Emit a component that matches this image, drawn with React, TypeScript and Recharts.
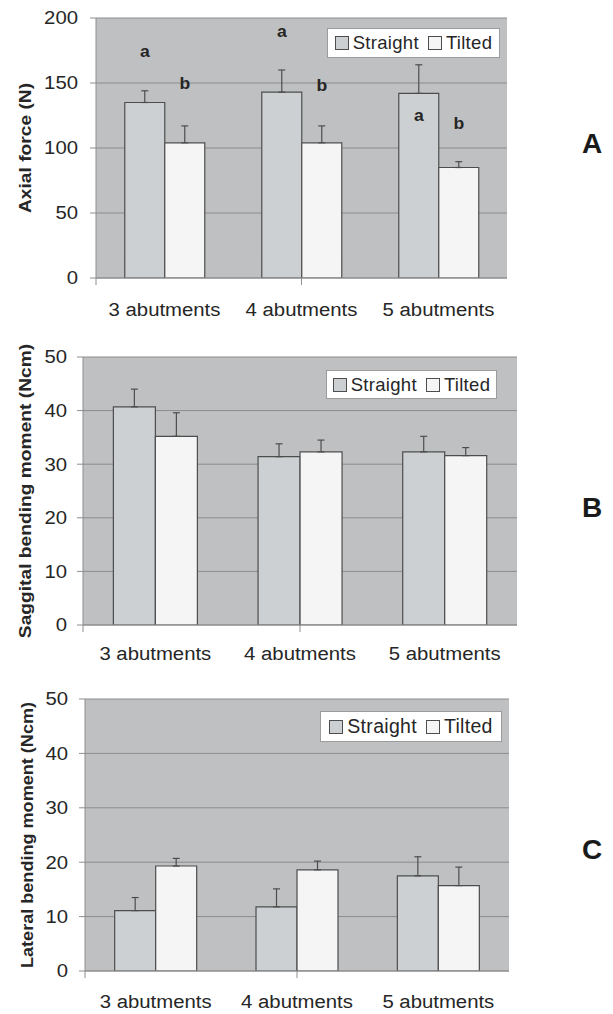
import React from 'react';
import {
  BarChart,
  Bar,
  XAxis,
  YAxis,
  CartesianGrid,
  ErrorBar,
  Legend,
  LabelList,
  ReferenceLine,
} from 'recharts';

// ---------- data ----------
const categories = ['3 abutments', '4 abutments', '5 abutments'];
const boundaryTicks = [0, 1, 2, 3];

// Panel A: axial force (N)
const axialStraight = [135, 143, 142];
const axialStraightSD = [9, 17, 22];
const axialTilted = [104, 104, 85];
const axialTiltedSD = [13, 13, 4.5];
const axialStraightSig = ['a', 'a', 'a'];
const axialStraightSigAt = [174, 190, 125];
const axialTiltedSig = ['b', 'b', 'b'];
const axialTiltedSigAt = [150, 148, 119];
const axialTicks = [0, 50, 100, 150, 200];

// Panel B: sagittal bending moment (Ncm)
const sagStraight = [40.7, 31.4, 32.3];
const sagStraightSD = [3.3, 2.4, 2.9];
const sagTilted = [35.2, 32.3, 31.6];
const sagTiltedSD = [4.4, 2.2, 1.5];

// Panel C: lateral bending moment (Ncm)
const latStraight = [11.1, 11.8, 17.5];
const latStraightSD = [2.4, 3.3, 3.5];
const latTilted = [19.3, 18.6, 15.7];
const latTiltedSD = [1.4, 1.6, 3.4];

const momentTicks = [0, 10, 20, 30, 40, 50];
const emptySig = ['', '', ''];
const emptyAt = [0, 0, 0];

// ---------- style ----------
const FONT = '"Liberation Sans", Arial, Helvetica, sans-serif';
const SX = 1.13;
const PLOT_BG = '#bfc0c2';
const GRID = '#8c8c8c';
const AXIS = '#8e8e8e';
const STRAIGHT_FILL = '#cdd0d2';
const TILTED_FILL = '#f5f5f5';
const BAR_STROKE = '#4d4d4d';
const TEXT = '#262626';

type Row = {
  name: string;
  straight: number;
  straightErr: [number, number];
  tilted: number;
  tiltedErr: [number, number];
  sigS: string;
  sigT: string;
};

const buildRows = (s: number[], sSD: number[], t: number[], tSD: number[], sigS: string[], sigT: string[]): Row[] =>
  categories.map((name, i) => ({
    name,
    straight: s[i],
    straightErr: [0, sSD[i]],
    tilted: t[i],
    tiltedErr: [0, tSD[i]],
    sigS: sigS[i],
    sigT: sigT[i],
  }));

const axialData = buildRows(axialStraight, axialStraightSD, axialTilted, axialTiltedSD, axialStraightSig, axialTiltedSig);
const sagData = buildRows(sagStraight, sagStraightSD, sagTilted, sagTiltedSD, emptySig, emptySig);
const latData = buildRows(latStraight, latStraightSD, latTilted, latTiltedSD, emptySig, emptySig);

// ---------- custom renderers ----------
const CatTick = (props: any) => {
  const { x, y, payload } = props;
  return (
    <g transform={`translate(${x},${y})`}>
      <text transform={`scale(${SX},1)`} textAnchor="middle" dy="0.71em" fontSize={18} fill={TEXT} fontFamily={FONT}>
        {payload.value}
      </text>
    </g>
  );
};

const NumTick = (props: any) => {
  const { x, y, payload } = props;
  return (
    <g transform={`translate(${x},${y})`}>
      <text transform={`scale(${SX},1)`} textAnchor="end" dy="0.35em" fontSize={18} fill={TEXT} fontFamily={FONT}>
        {payload.value}
      </text>
    </g>
  );
};

const EmptyTick = () => <g />;

const makeTitle = (text: string, size: number, cx: number) => (props: any) => {
  const vb = props.viewBox || props;
  const x = vb.x + cx;
  const y = vb.y + vb.height / 2;
  return (
    <g transform={`translate(${x},${y}) rotate(-90)`}>
      <text transform={`scale(${SX},1)`} textAnchor="middle" dy="0.35em" fontWeight="bold" fontSize={size} fill={TEXT} fontFamily={FONT}>
        {text}
      </text>
    </g>
  );
};

const makeSig = (values: number[], sig: string[], at: number[]) => (props: any) => {
  const { index } = props;
  const vb = props.viewBox || props;
  const v = values[index];
  if (!sig[index] || !v || vb == null) return null;
  const zeroY = vb.y + vb.height;
  const per = vb.height / v;
  const ty = zeroY - at[index] * per;
  const cx = vb.x + vb.width / 2;
  return (
    <g transform={`translate(${cx},${ty})`}>
      <text transform="scale(1.1,1)" textAnchor="middle" dy="0.35em" fontWeight="bold" fontSize={16} fill={TEXT} fontFamily={FONT}>
        {sig[index]}
      </text>
    </g>
  );
};

const makeLegend = (fs: number) => (props: any) => {
  const payload = props.payload || [];
  return (
    <div
      style={{
        width: '100%',
        height: '100%',
        boxSizing: 'border-box',
        background: '#ffffff',
        border: '1px solid #9c9c9c',
        display: 'flex',
        alignItems: 'center',
        justifyContent: 'center',
        fontFamily: FONT,
        fontSize: fs,
        letterSpacing: '0.3px',
        color: TEXT,
        whiteSpace: 'nowrap',
      }}
    >
      {payload.map((p: any, i: number) => (
        <span key={i} style={{ display: 'flex', alignItems: 'center', marginRight: i === 0 ? 9 : 0 }}>
          <span
            style={{
              display: 'inline-block',
              width: 12,
              height: 12,
              border: `1px solid ${BAR_STROKE}`,
              background: p.color,
              marginRight: 4,
            }}
          />
          {p.value}
        </span>
      ))}
    </div>
  );
};

type PanelProps = {
  data: Row[];
  top: number;
  width: number;
  height: number;
  yWidth: number;
  catHeight: number;
  catMargin: number;
  yTickMargin: number;
  domain: [number, number];
  ticks: number[];
  title: string;
  titleSize: number;
  titleX: number;
  legend: { left: number; top: number; width: number; height: number; fs: number };
  sVals: number[];
  tVals: number[];
  sigS: string[];
  sigSAt: number[];
  sigT: string[];
  sigTAt: number[];
};

const Panel = (p: PanelProps) => (
  <div style={{ position: 'absolute', left: 0, top: p.top }}>
    <BarChart
      width={p.width}
      height={p.height}
      data={p.data}
      margin={{ top: 18, right: 13, left: 0, bottom: 0 }}
      barCategoryGap="21%"
      barGap={0}
      style={{ fontFamily: FONT }}
    >
      <CartesianGrid xAxisId="cat" vertical={false} fill={PLOT_BG} fillOpacity={1} stroke={GRID} />
      <XAxis
        xAxisId="bound"
        type="number"
        domain={[0, 3]}
        ticks={boundaryTicks}
        allowDataOverflow
        height={8}
        tickSize={7}
        tick={EmptyTick}
        axisLine={{ stroke: AXIS }}
        tickLine={{ stroke: AXIS }}
      />
      <XAxis
        xAxisId="cat"
        dataKey="name"
        type="category"
        height={p.catHeight}
        tickSize={0}
        tickMargin={p.catMargin}
        axisLine={false}
        tickLine={false}
        interval={0}
        tick={CatTick}
      />
      <YAxis
        width={p.yWidth}
        domain={p.domain}
        ticks={p.ticks}
        interval={0}
        allowDataOverflow
        tickSize={6}
        tickMargin={p.yTickMargin}
        axisLine={{ stroke: AXIS }}
        tickLine={{ stroke: AXIS }}
        tick={NumTick}
        label={makeTitle(p.title, p.titleSize, p.titleX)}
      />
      <ReferenceLine xAxisId="bound" x={3} stroke="#a6a6a6" ifOverflow="visible" />
      <Legend
        verticalAlign="middle"
        align="center"
        layout="horizontal"
        content={makeLegend(p.legend.fs)}
        wrapperStyle={{
          left: p.legend.left,
          top: p.legend.top,
          width: p.legend.width,
          height: p.legend.height,
          right: 'auto',
          bottom: 'auto',
        }}
      />
      <Bar
        xAxisId="cat"
        dataKey="straight"
        name="Straight"
        fill={STRAIGHT_FILL}
        stroke={BAR_STROKE}
        strokeWidth={1.2}
        isAnimationActive={false}
      >
        <ErrorBar dataKey="straightErr" direction="y" width={3.5} stroke={BAR_STROKE} strokeWidth={1.2} isAnimationActive={false} />
        <LabelList dataKey="sigS" content={makeSig(p.sVals, p.sigS, p.sigSAt)} />
      </Bar>
      <Bar
        xAxisId="cat"
        dataKey="tilted"
        name="Tilted"
        fill={TILTED_FILL}
        stroke={BAR_STROKE}
        strokeWidth={1.2}
        isAnimationActive={false}
      >
        <ErrorBar dataKey="tiltedErr" direction="y" width={3.5} stroke={BAR_STROKE} strokeWidth={1.2} isAnimationActive={false} />
        <LabelList dataKey="sigT" content={makeSig(p.tVals, p.sigT, p.sigTAt)} />
      </Bar>
    </BarChart>
  </div>
);

export default function App() {
  return (
    <div
      style={{
        position: 'absolute',
        left: 0,
        top: 0,
        width: 613,
        height: 1014,
        background: '#ffffff',
        overflow: 'hidden',
        fontFamily: FONT,
      }}
    >
      <Panel
        data={axialData}
        top={0}
        width={520}
        height={330}
        yWidth={96}
        catHeight={44}
        catMargin={17}
        yTickMargin={12}
        domain={[0, 200]}
        ticks={axialTicks}
        title="Axial force (N)"
        titleSize={17}
        titleX={25}
        legend={{ left: 327, top: 28, width: 173, height: 30, fs: 18.5 }}
        sVals={axialStraight}
        tVals={axialTilted}
        sigS={axialStraightSig}
        sigSAt={axialStraightSigAt}
        sigT={axialTiltedSig}
        sigTAt={axialTiltedSigAt}
      />
      <Panel
        data={sagData}
        top={339}
        width={530}
        height={338}
        yWidth={83}
        catHeight={44}
        catMargin={14}
        yTickMargin={10}
        domain={[0, 50]}
        ticks={momentTicks}
        title="Saggital bending moment (Ncm)"
        titleSize={17}
        titleX={25}
        legend={{ left: 326, top: 31, width: 171, height: 29, fs: 18.5 }}
        sVals={sagStraight}
        tVals={sagTilted}
        sigS={emptySig}
        sigSAt={emptyAt}
        sigT={emptySig}
        sigTAt={emptyAt}
      />
      <Panel
        data={latData}
        top={681}
        width={522}
        height={333}
        yWidth={85}
        catHeight={35}
        catMargin={16}
        yTickMargin={11}
        domain={[0, 50]}
        ticks={momentTicks}
        title="Lateral bending moment (Ncm)"
        titleSize={16}
        titleX={27}
        legend={{ left: 320, top: 30, width: 182, height: 31, fs: 19.5 }}
        sVals={latStraight}
        tVals={latTilted}
        sigS={emptySig}
        sigSAt={emptyAt}
        sigT={emptySig}
        sigTAt={emptyAt}
      />
      <svg width={613} height={1014} style={{ position: 'absolute', left: 0, top: 0, pointerEvents: 'none' }}>
        <text x={592} y={153} textAnchor="middle" fontWeight="bold" fontSize={28} fill="#1a1a1a" fontFamily={FONT}>A</text>
        <text x={592} y={517} textAnchor="middle" fontWeight="bold" fontSize={28} fill="#1a1a1a" fontFamily={FONT}>B</text>
        <text x={592} y={859} textAnchor="middle" fontWeight="bold" fontSize={28} fill="#1a1a1a" fontFamily={FONT}>C</text>
      </svg>
    </div>
  );
}
